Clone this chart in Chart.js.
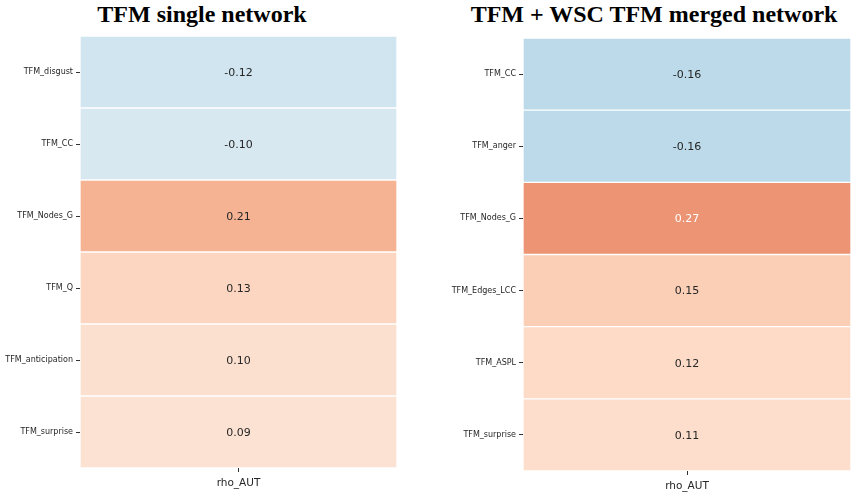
<!DOCTYPE html>
<html>
<head>
<meta charset="utf-8">
<script src="https://cdn.jsdelivr.net/npm/chart.js@4"></script>
<style>
  body { margin: 0; background: #fff; }
  #wrap { position: relative; width: 858px; height: 499px; overflow: hidden; }
  .ttl { position: absolute; top: 1px; font: bold 24px "Liberation Serif", "DejaVu Serif", serif; color: #000; white-space: nowrap; transform: translateX(-50%); }
  canvas { position: absolute; top: 0; }
</style>
</head>
<body>
<div id="wrap">
  <div class="ttl" style="left:202px">TFM single network</div>
  <div class="ttl" style="left:654px">TFM + WSC TFM merged network</div>
  <canvas id="leftChart" style="left:0" width="430" height="499"></canvas>
  <canvas id="rightChart" style="left:430px" width="428" height="499"></canvas>
</div>
<script>
// data
const colLabel = 'rho_AUT';
const leftRows = ['TFM_disgust', 'TFM_CC', 'TFM_Nodes_G', 'TFM_Q', 'TFM_anticipation', 'TFM_surprise'];
const leftVals = [-0.12, -0.10, 0.21, 0.13, 0.10, 0.09];
const rightRows = ['TFM_CC', 'TFM_anger', 'TFM_Nodes_G', 'TFM_Edges_LCC', 'TFM_ASPL', 'TFM_surprise'];
const rightVals = [-0.16, -0.16, 0.27, 0.15, 0.12, 0.11];

// RdBu_r colormap, centred at 0
const stops = ['#053061', '#2166ac', '#4393c3', '#92c5de', '#d1e5f0', '#f7f7f7',
               '#fddbc7', '#f4a582', '#d6604d', '#b2182b', '#67001f'];
const vmin = -0.6, vmax = 0.6;
function hex(c) { return [1, 3, 5].map(i => parseInt(c.slice(i, i + 2), 16)); }
function cmap(v) {
  let t = (v - vmin) / (vmax - vmin);
  t = Math.max(0, Math.min(1, t)) * (stops.length - 1);
  const i = Math.min(Math.floor(t), stops.length - 2), f = t - i;
  const a = hex(stops[i]), b = hex(stops[i + 1]);
  const c = a.map((x, k) => Math.round(x + (b[k] - x) * f));
  return `rgb(${c[0]},${c[1]},${c[2]})`;
}
function lum(v) {
  const m = cmap(v).match(/\d+/g).map(Number);
  return 0.299 * m[0] + 0.587 * m[1] + 0.114 * m[2];
}

// writes the value in each cell
const annot = {
  id: 'annot',
  afterDatasetsDraw(chart) {
    const ctx = chart.ctx;
    const vals = chart.data.datasets[0].vals;
    const meta = chart.getDatasetMeta(0);
    ctx.save();
    ctx.font = '11px "DejaVu Sans", sans-serif';
    ctx.textAlign = 'center';
    ctx.textBaseline = 'middle';
    meta.data.forEach((bar, i) => {
      const x = (chart.chartArea.left + chart.chartArea.right) / 2;
      ctx.fillStyle = lum(vals[i]) < 180 ? '#ffffff' : '#262626';
      ctx.fillText(vals[i].toFixed(2), x, bar.y + 1);
    });
    ctx.restore();
  }
};

function makeHeatmap(id, rows, vals, yWidth, pad) {
  new Chart(document.getElementById(id), {
    type: 'bar',
    data: {
      labels: rows,
      datasets: [{
        data: vals.map(() => [0, 1]),
        vals: vals,
        backgroundColor: vals.map(cmap),
        borderColor: '#ffffff',
        borderWidth: 1,
        borderSkipped: false,
        barPercentage: 1,
        categoryPercentage: 1
      }]
    },
    options: {
      indexAxis: 'y',
      responsive: false,
      animation: false,
      layout: { padding: pad },
      plugins: { legend: { display: false }, tooltip: { enabled: false } },
      scales: {
        x: {
          type: 'linear', min: 0, max: 1,
          afterBuildTicks: s => { s.ticks = [{ value: 0.5 }]; },
          afterFit: s => { s.height = pad.xh; },
          ticks: { callback: () => colLabel, color: '#262626', font: { family: 'DejaVu Sans', size: 10.5 }, maxRotation: 0, padding: 5 },
          grid: { drawOnChartArea: false, drawTicks: true, tickLength: 4, tickColor: '#333' },
          border: { display: false }
        },
        y: {
          afterFit: s => { s.width = yWidth; },
          ticks: { color: '#262626', font: { family: 'DejaVu Sans', size: 8 }, padding: 3 },
          grid: { offset: false, drawOnChartArea: false, drawTicks: true, tickLength: 4, tickColor: '#333' },
          border: { display: false }
        }
      }
    },
    plugins: [annot]
  });
}

makeHeatmap('leftChart', leftRows, leftVals, 80, { top: 36, right: 33, bottom: 0, left: 0, xh: 31 });
makeHeatmap('rightChart', rightRows, rightVals, 93, { top: 38, right: 7, bottom: 0, left: 0, xh: 28 });
</script>
</body>
</html>
